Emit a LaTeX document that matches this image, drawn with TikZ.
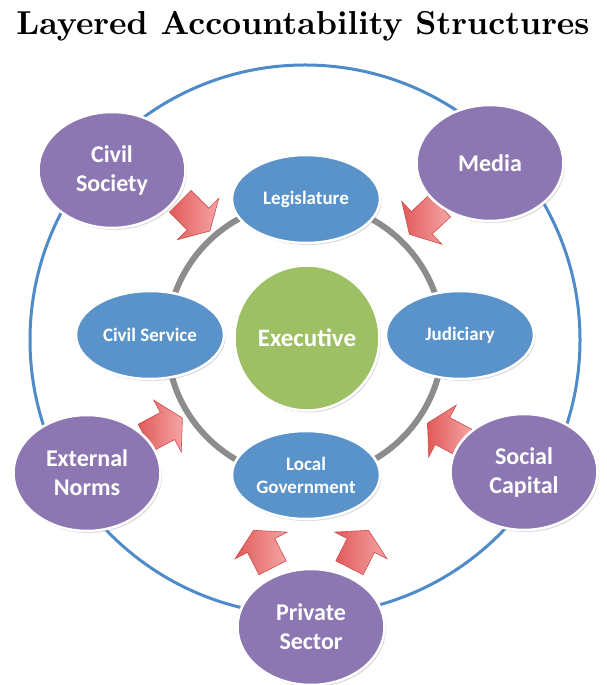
\documentclass[tikz,border=0pt]{standalone}
\usepackage{fontspec}
\newfontfamily\carlito{Carlito}
\usetikzlibrary{shapes.geometric,shapes.arrows,shadows}
\definecolor{ringblue}{HTML}{4F8BC8}
\definecolor{ringgray}{HTML}{8C8C8C}
\definecolor{bodyblue}{HTML}{5A93C9}
\definecolor{bodypurple}{HTML}{8D77B3}
\definecolor{bodygreen}{HTML}{9DC064}
\definecolor{pushdark}{HTML}{E05A5A}
\definecolor{pushlight}{HTML}{F6A5A5}
\definecolor{pushline}{HTML}{D04A4A}

\begin{document}
\begin{tikzpicture}[x=1pt,y=1pt,
  body/.style={ellipse,draw=white,line width=2.5pt,text=white,inner sep=0pt,align=center,
    drop shadow={opacity=.3,shadow xshift=1.5pt,shadow yshift=-2pt}},
  inbody/.style={body,fill=bodyblue,minimum width=148pt,minimum height=88pt,
    font=\carlito\bfseries\fontsize{19}{23}\selectfont},
  outbody/.style={body,fill=bodypurple,minimum width=147pt,minimum height=116pt,
    font=\carlito\bfseries\fontsize{24}{29}\selectfont},
  push/.style={single arrow,draw=pushline,line width=.6pt,left color=pushdark,right color=pushlight,
    minimum height=42pt,inner xsep=0pt,inner ysep=15pt,single arrow head extend=14pt,
    single arrow tip angle=120}]
   \useasboundingbox (0,0) rectangle (606,685);
   % title
   \node (title) at (303,659) {\resizebox{573pt}{!}{\bfseries Layered Accountability Structures}};
   % rings
   \draw[ringblue,line width=3pt] (305,345) circle (275);
   \draw[ringgray,line width=6pt] (305,345) circle (138);
   % arrows towards the inner ring
   \node[push,rotate=-45] (pushcs) at (192,472) {};
   \node[push,rotate=223] (pushmd) at (428,468) {};
   \node[push,rotate=28] (pushen) at (160,255) {};
   \node[push,rotate=152] (pushsc) at (450,250) {};
   \node[push,rotate=117] (pushpl) at (265,132) {};
   \node[push,rotate=63] (pushpr) at (357,132) {};
   % inner ring
   \node[inbody] (legis) at (306,486) {Legislature};
   \node[inbody] (civserv) at (150,350) {Civil Service};
   \node[inbody] (judic) at (460,350) {Judiciary};
   \node[inbody] (localgov) at (306,210) {Local\\Government};
   \node[body,fill=bodygreen,minimum size=145pt,font=\carlito\bfseries\fontsize{25}{30}\selectfont] (exec) at (307,347) {Executive};
   % outer ring
   \node[outbody] (civsoc) at (112,515) {Civil\\Society};
   \node[outbody] (media) at (490,522) {Media};
   \node[outbody] (extnorm) at (87,212) {External\\Norms};
   \node[outbody] (soccap) at (524,213) {Social\\Capital};
   \node[outbody] (privsec) at (311,58) {Private\\Sector};
\end{tikzpicture}
\end{document}
